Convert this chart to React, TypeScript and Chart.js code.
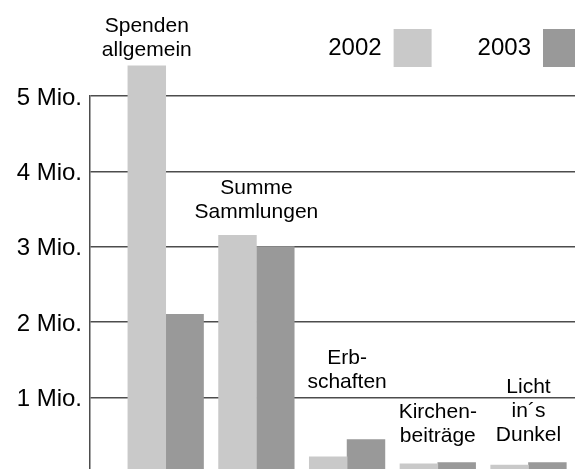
import React, { useEffect, useRef } from "react";
import { Chart, registerables } from "chart.js";

Chart.register(...registerables);

// ---- data ----
const seriesNames = ["2002", "2003"];
const categoryLabels: string[][] = [
  ["Spenden", "allgemein"],
  ["Summe", "Sammlungen"],
  ["Erb-", "schaften"],
  ["Kirchen-", "beiträge"],
  ["Licht", "in´s", "Dunkel"],
];
const categoryPositions = [1, 2, 3, 4, 5];
const values2002 = [5.4, 3.15, 0.21, 0.115, 0.1];
const values2003 = [2.1, 3.0, 0.44, 0.133, 0.133];
// y value (in Mio.) of the last baseline of each category label
const labelValues = [5.53, 3.38, 1.12, 0.41, 0.42];
// which series' bar a label is centred on (null = group centre)
const labelAnchors: (number | null)[] = [0, null, null, null, null];
const yTicks = [0, 1, 2, 3, 4, 5];

const FONT = '"Liberation Sans", Arial, Helvetica, sans-serif';
const colors = ["#c9c9c9", "#999999"];
const gridColor = "#4d4d4d";

const categoryLabelPlugin = {
  id: "categoryLabels",
  afterDatasetsDraw(chart: any) {
    const { ctx, scales } = chart;
    const x = scales.x;
    const y = scales.y;
    ctx.save();
    ctx.font = `21px ${FONT}`;
    ctx.fillStyle = "#000";
    ctx.textAlign = "center";
    ctx.textBaseline = "alphabetic";
    const lineH = 24;
    categoryLabels.forEach((lines, i) => {
      const a = labelAnchors[i];
      const cx =
        a === null
          ? x.getPixelForValue(categoryPositions[i])
          : chart.getDatasetMeta(a).data[i].x;
      const base = y.getPixelForValue(labelValues[i]);
      const n = lines.length;
      lines.forEach((line, j) => {
        ctx.fillText(line, cx, base - (n - 1 - j) * lineH);
      });
    });
    ctx.restore();
  },
};

export default function App() {
  const ref = useRef<HTMLCanvasElement>(null);
  useEffect(() => {
    document.body.style.margin = "0";
    Chart.defaults.font.family = FONT;
    const chart = new Chart(ref.current as HTMLCanvasElement, {
      type: "bar",
      data: {
        datasets: [values2002, values2003].map((vals, d) => ({
          label: seriesNames[d],
          data: vals.map((v, i) => ({ x: categoryPositions[i], y: v })),
          backgroundColor: colors[d],
          borderWidth: 0,
          barThickness: 37.8,
          clip: false as any,
        })),
      },
      options: {
        responsive: false,
        animation: false,
        devicePixelRatio: 1,
        layout: { padding: { top: 0, left: 0, right: 0, bottom: 20 } },
        scales: {
          x: {
            type: "linear",
            display: false,
            offset: false,
            min: 0.1654,
            max: 6.086,
          },
          y: {
            min: yTicks[0],
            max: yTicks[yTicks.length - 1],
            afterFit: (scale: any) => {
              scale.width = 90;
            },
            ticks: {
              stepSize: 1,
              padding: 8,
              labelOffset: 2,
              color: "#000",
              font: { size: 24, family: FONT },
              callback: (v: any) => (v === 0 ? "" : `${v} Mio.`),
            },
            grid: { color: gridColor, lineWidth: 1.5, drawTicks: false },
            border: { color: gridColor, width: 1.5 },
          },
        },
        plugins: {
          tooltip: { enabled: false },
          legend: {
            position: "top",
            align: "start",
            rtl: true,
            reverse: true,
            labels: {
              boxWidth: 38,
              boxHeight: 38,
              padding: 46,
              color: "#000",
              font: { size: 24, family: FONT },
            },
          },
          title: {
            display: true,
            text: "",
            weight: 500,
            position: "top",
            padding: 0,
            font: { size: 19, lineHeight: 1 },
          } as any,
        },
      },
      plugins: [categoryLabelPlugin],
    });
    return () => chart.destroy();
  }, []);
  return (
    <div
      style={{
        position: "relative",
        width: 575,
        height: 469,
        overflow: "hidden",
        background: "#fff",
      }}
    >
      <canvas
        ref={ref}
        width={627}
        height={512}
        style={{ position: "absolute", left: 0, top: -17, display: "block" }}
      />
    </div>
  );
}
